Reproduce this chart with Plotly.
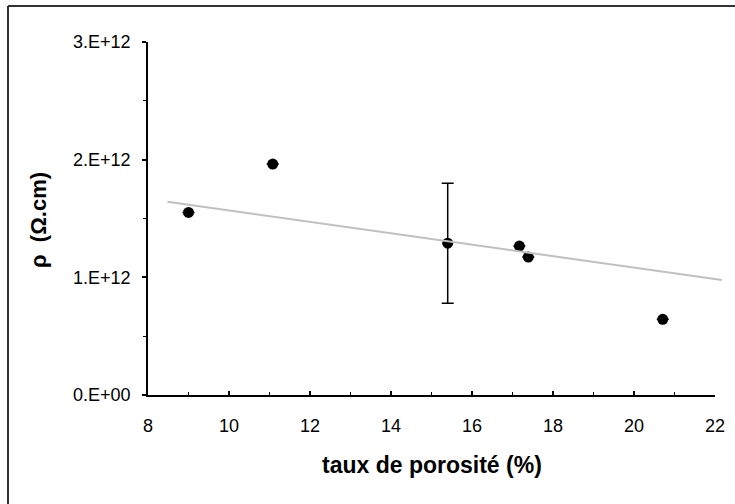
import plotly.graph_objects as go

# Measured samples: porosity (%) vs resistivity (ohm.cm)
porosity = [9.0, 11.08, 15.4, 17.17, 17.39, 20.71]
resistivity = [1.552e12, 1.963e12, 1.29e12, 1.266e12, 1.172e12, 0.643e12]
resistivity_err = [0, 0, 0.51e12, 0, 0, 0]

# Linear trend line end points
trend_x = [8.48, 22.17]
trend_y = [1.643e12, 0.977e12]

# Axis ticks
x_ticks = [8, 10, 12, 14, 16, 18, 20, 22]
y_tickvals = [0, 1e12, 2e12, 3e12]
y_ticktext = ["0.E+00", "1.E+12", "2.E+12", "3.E+12"]

W, H = 735, 504
L, R, T, B = 148, 13, 42, 109
plot_w = W - L - R
plot_h = H - T - B
main_w = 567
x_per_px = (22 - 8) / main_w

font = "Liberation Sans, Arial, sans-serif"

fig = go.Figure()

fig.add_trace(go.Scatter(
    x=trend_x, y=trend_y, mode="lines",
    line=dict(color="#c0c0c0", width=2),
    xaxis="x2", yaxis="y", hoverinfo="skip", showlegend=False,
))

fig.add_trace(go.Scatter(
    x=porosity, y=resistivity, mode="markers",
    marker=dict(color="black", size=11),
    error_y=dict(type="data", array=resistivity_err, visible=True,
                 color="black", thickness=1.5, width=6),
    showlegend=False,
))

axis_common = dict(showgrid=False, zeroline=False, color="black", automargin=False,
                   tickfont=dict(family=font, size=18, color="black"))

fig.update_layout(
    width=W, height=H, autosize=False,
    margin=dict(l=L, r=R, t=T, b=B, autoexpand=False),
    paper_bgcolor="white", plot_bgcolor="rgba(0,0,0,0)",
    xaxis=dict(
        domain=[0, main_w / plot_w], range=[8, 22],
        tickvals=x_ticks, ticks="inside", ticklen=4, tickwidth=1.5,
        showline=True, linecolor="black", linewidth=1.5,
        minor=dict(ticks="inside", ticklen=3, tickwidth=1, dtick=1, tick0=8),
        ticklabelstandoff=14,
        **axis_common,
    ),
    xaxis2=dict(
        domain=[0, 1], range=[8, 8 + plot_w * x_per_px], anchor="y",
        visible=False, automargin=False,
    ),
    yaxis=dict(
        range=[0, 3e12],
        tickvals=y_tickvals, ticktext=y_ticktext,
        ticks="outside", ticklen=4, tickwidth=1.5,
        showline=True, linecolor="black", linewidth=1.5,
        minor=dict(ticks="outside", ticklen=3, tickwidth=1, dtick=0.5e12, tick0=0),
        ticklabelstandoff=8,
        **axis_common,
    ),
    annotations=[
        dict(text="<b>taux de porosité (%)</b>", xref="paper", yref="paper",
             x=(432 - L) / plot_w, y=(H - B - 465) / plot_h,
             xanchor="center", yanchor="middle", showarrow=False,
             font=dict(family=font, size=23, color="black")),
        dict(text="<b>ρ  (Ω.cm)</b>", xref="paper", yref="paper",
             x=(38 - L) / plot_w, y=(H - B - 220) / plot_h, textangle=-90,
             xanchor="center", yanchor="middle", showarrow=False,
             font=dict(family=font, size=22, color="black")),
    ],
)

# Frame around the chart (left and top edges visible)
x0 = (8 - L) / plot_w
y1 = (H - B - 6) / plot_h
fig.add_shape(type="line", xref="paper", yref="paper",
              x0=x0, x1=x0, y0=-0.5, y1=y1,
              line=dict(color="#333333", width=2))
fig.add_shape(type="line", xref="paper", yref="paper",
              x0=x0, x1=(W - L) / plot_w, y0=y1, y1=y1,
              line=dict(color="#333333", width=2))

fig.write_html("out.html")
